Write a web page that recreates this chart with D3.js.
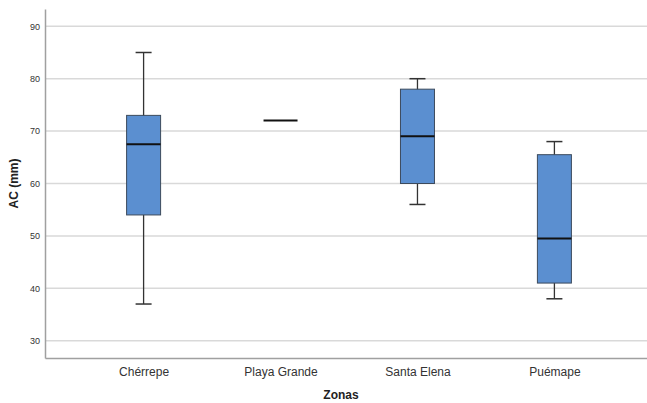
<!DOCTYPE html>
<html>
<head>
<meta charset="utf-8">
<script src="https://cdn.jsdelivr.net/npm/d3@7"></script>
<style>
  body { margin: 0; background: #fff; }
  text { font-family: "Liberation Sans", Arial, sans-serif; }
</style>
</head>
<body>
<div id="chart"></div>
<script>
// data
const zonas = ["Chérrepe", "Playa Grande", "Santa Elena", "Puémape"];
const whiskerLow = [37, 72, 56, 38];
const q1 = [54, 72, 60, 41];
const median = [67.5, 72, 69, 49.5];
const q3 = [73, 72, 78, 65.5];
const whiskerHigh = [85, 72, 80, 68];
const yTicks = [30, 40, 50, 60, 70, 80, 90];

const margin = {top: 9, right: -6, bottom: 45, left: 45},
    width = 647 - margin.left - margin.right,
    height = 403 - margin.top - margin.bottom;

const svg = d3.select("#chart")
  .append("svg")
    .attr("width", 647)
    .attr("height", 403)
  .append("g")
    .attr("transform", `translate(${margin.left},${margin.top})`);

const x = d3.scalePoint()
    .domain(zonas)
    .range([0, width])
    .padding(0.72);

const y = d3.scaleLinear()
    .domain([26.7, 93.3])
    .range([height, 0]);

// gridlines
svg.append("g")
  .selectAll("line")
  .data(yTicks)
  .join("line")
    .attr("x1", 0)
    .attr("x2", width)
    .attr("y1", d => y(d))
    .attr("y2", d => y(d))
    .attr("stroke", "#d9d9d9")
    .attr("stroke-width", 1.5);

// Y axis
const yAxis = svg.append("g")
    .call(d3.axisLeft(y).tickValues(yTicks).tickSize(0).tickPadding(5));
yAxis.select(".domain").attr("stroke", "#a0a0a0").attr("stroke-width", 1.5);
yAxis.selectAll("text").attr("font-size", 9).attr("fill", "#333");

// X axis
const xAxis = svg.append("g")
    .attr("transform", `translate(0,${height})`)
    .call(d3.axisBottom(x).tickSize(0).tickPadding(9));
xAxis.select(".domain").attr("stroke", "#a0a0a0").attr("stroke-width", 1.5);
xAxis.selectAll("text").attr("font-size", 12).attr("fill", "#333");

const boxW = 34, capW = 16;
const boxes = svg.append("g")
  .selectAll("g")
  .data(zonas.map((z, i) => ({z, lo: whiskerLow[i], q1: q1[i], med: median[i], q3: q3[i], hi: whiskerHigh[i]})))
  .join("g")
    .attr("transform", d => `translate(${x(d.z)},0)`);

// whiskers
boxes.append("line")
    .attr("y1", d => y(d.lo))
    .attr("y2", d => y(d.hi))
    .attr("stroke", "#333")
    .attr("stroke-width", 1.3);
boxes.selectAll(".cap")
  .data(d => d.hi > d.lo ? [d.lo, d.hi] : [])
  .join("line")
    .attr("class", "cap")
    .attr("x1", -capW / 2)
    .attr("x2", capW / 2)
    .attr("y1", v => y(v))
    .attr("y2", v => y(v))
    .attr("stroke", "#333")
    .attr("stroke-width", 1.5);

// box
boxes.filter(d => d.q3 > d.q1).append("rect")
    .attr("x", -boxW / 2)
    .attr("width", boxW)
    .attr("y", d => y(d.q3))
    .attr("height", d => y(d.q1) - y(d.q3))
    .attr("fill", "#5b8fd0")
    .attr("stroke", "#3c4a5c")
    .attr("stroke-width", 1);

// median
boxes.append("line")
    .attr("x1", -boxW / 2)
    .attr("x2", boxW / 2)
    .attr("y1", d => y(d.med))
    .attr("y2", d => y(d.med))
    .attr("stroke", "#111")
    .attr("stroke-width", 2);

// axis labels
svg.append("text")
    .attr("text-anchor", "middle")
    .attr("x", 341 - margin.left)
    .attr("y", height + 41)
    .attr("font-size", 12)
    .attr("font-weight", "bold")
    .attr("fill", "#222")
    .text("Zonas");

svg.append("text")
    .attr("text-anchor", "middle")
    .attr("transform", "rotate(-90)")
    .attr("x", -(y(60)))
    .attr("y", -margin.left + 18)
    .attr("font-size", 12)
    .attr("font-weight", "bold")
    .attr("fill", "#222")
    .text("AC (mm)");
</script>
</body>
</html>
